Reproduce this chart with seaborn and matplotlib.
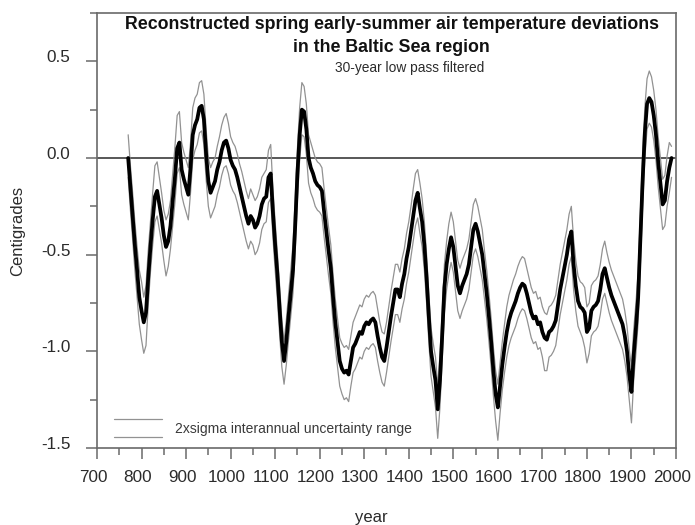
import numpy as np
import pandas as pd
import matplotlib
matplotlib.use("Agg")
import matplotlib.pyplot as plt
from matplotlib.lines import Line2D
from matplotlib.legend_handler import HandlerBase
from matplotlib.ticker import MultipleLocator, FormatStrFormatter
from matplotlib.transforms import ScaledTranslation
import seaborn as sns

# Reconstruction years (5-year steps)
years = list(range(770, 1995, 5))

# 30-year low-pass filtered temperature deviation (deg C)
center = [
    0.00, -0.15, -0.30, -0.45, -0.58, -0.72, -0.79, -0.85, -0.80, -0.62,
    -0.46, -0.32, -0.20, -0.17, -0.24, -0.31, -0.40, -0.46, -0.43, -0.35,
    -0.22, -0.10, 0.05, 0.08, -0.06, -0.11, -0.15, -0.19, -0.05, 0.12,
    0.17, 0.20, 0.26, 0.27, 0.20, 0.02, -0.12, -0.18, -0.15, -0.12,
    -0.06, -0.02, 0.04, 0.08, 0.09, 0.05, -0.01, -0.04, -0.06, -0.10,
    -0.15, -0.20, -0.25, -0.30, -0.34, -0.30, -0.32, -0.36, -0.34, -0.30,
    -0.24, -0.21, -0.20, -0.10, -0.08, -0.28, -0.45, -0.60, -0.78, -0.95,
    -1.05, -0.95, -0.82, -0.70, -0.58, -0.35, -0.08, 0.12, 0.25, 0.24,
    0.15, 0.00, -0.05, -0.08, -0.12, -0.14, -0.15, -0.17, -0.28, -0.38,
    -0.48, -0.57, -0.72, -0.85, -0.95, -1.05, -1.09, -1.11, -1.10, -1.12,
    -1.05, -0.98, -0.96, -0.93, -0.90, -0.91, -0.87, -0.85, -0.86, -0.84,
    -0.83, -0.85, -0.92, -0.98, -1.03, -1.05, -0.98, -0.90, -0.82, -0.75,
    -0.68, -0.68, -0.72, -0.65, -0.60, -0.52, -0.46, -0.38, -0.30, -0.22,
    -0.18, -0.26, -0.33, -0.45, -0.62, -0.82, -1.00, -1.08, -1.15, -1.30,
    -1.15, -0.92, -0.67, -0.55, -0.47, -0.41, -0.46, -0.56, -0.66, -0.70,
    -0.66, -0.63, -0.60, -0.55, -0.46, -0.37, -0.34, -0.38, -0.44, -0.50,
    -0.60, -0.70, -0.82, -0.95, -1.10, -1.22, -1.29, -1.18, -1.07, -0.98,
    -0.90, -0.84, -0.80, -0.77, -0.74, -0.70, -0.67, -0.65, -0.66, -0.70,
    -0.75, -0.80, -0.83, -0.82, -0.86, -0.85, -0.90, -0.93, -0.94, -0.90,
    -0.89, -0.87, -0.84, -0.76, -0.68, -0.62, -0.56, -0.50, -0.42, -0.38,
    -0.55, -0.66, -0.74, -0.77, -0.78, -0.80, -0.90, -0.88, -0.79, -0.77,
    -0.76, -0.74, -0.68, -0.60, -0.57, -0.62, -0.67, -0.71, -0.74, -0.77,
    -0.80, -0.83, -0.86, -0.92, -1.00, -1.12, -1.21, -1.02, -0.88, -0.72,
    -0.42, -0.12, 0.13, 0.28, 0.31, 0.29, 0.22, 0.12, -0.02, -0.13,
    -0.24, -0.22, -0.12, -0.05, 0.00,
]

# Upper edge of the 2-sigma interannual uncertainty range
upper = [
    0.12, -0.04, -0.18, -0.33, -0.46, -0.58, -0.64, -0.72, -0.66, -0.48,
    -0.33, -0.18, -0.04, -0.02, -0.10, -0.18, -0.27, -0.32, -0.29, -0.22,
    -0.08, 0.06, 0.22, 0.24, 0.08, 0.03, -0.01, -0.05, 0.08, 0.26,
    0.31, 0.33, 0.39, 0.40, 0.33, 0.15, 0.00, -0.05, -0.02, 0.00,
    0.06, 0.11, 0.17, 0.21, 0.23, 0.18, 0.11, 0.08, 0.06, 0.02,
    -0.03, -0.07, -0.12, -0.17, -0.21, -0.16, -0.19, -0.22, -0.20, -0.16,
    -0.10, -0.08, -0.06, 0.04, 0.07, -0.16, -0.33, -0.49, -0.66, -0.84,
    -0.95, -0.84, -0.71, -0.58, -0.45, -0.21, 0.05, 0.26, 0.39, 0.37,
    0.28, 0.12, 0.08, 0.04, 0.00, -0.02, -0.03, -0.05, -0.16, -0.26,
    -0.36, -0.45, -0.60, -0.73, -0.83, -0.93, -0.96, -0.98, -0.97, -0.99,
    -0.92, -0.85, -0.82, -0.79, -0.76, -0.77, -0.73, -0.71, -0.72, -0.70,
    -0.69, -0.71, -0.78, -0.85, -0.90, -0.91, -0.85, -0.77, -0.69, -0.62,
    -0.55, -0.55, -0.59, -0.52, -0.47, -0.39, -0.33, -0.25, -0.16, -0.08,
    -0.06, -0.13, -0.21, -0.33, -0.50, -0.70, -0.88, -0.96, -1.03, -1.18,
    -1.02, -0.80, -0.55, -0.43, -0.34, -0.28, -0.33, -0.43, -0.53, -0.57,
    -0.53, -0.50, -0.47, -0.42, -0.33, -0.24, -0.21, -0.25, -0.31, -0.37,
    -0.48, -0.58, -0.70, -0.83, -0.98, -1.10, -1.17, -1.06, -0.95, -0.86,
    -0.77, -0.71, -0.67, -0.63, -0.60, -0.56, -0.53, -0.51, -0.52, -0.57,
    -0.62, -0.67, -0.70, -0.69, -0.73, -0.72, -0.77, -0.80, -0.81, -0.77,
    -0.76, -0.74, -0.71, -0.63, -0.55, -0.49, -0.43, -0.37, -0.29, -0.25,
    -0.42, -0.53, -0.61, -0.64, -0.65, -0.67, -0.77, -0.75, -0.66, -0.64,
    -0.63, -0.61, -0.55, -0.47, -0.43, -0.49, -0.54, -0.58, -0.61, -0.64,
    -0.67, -0.70, -0.73, -0.79, -0.87, -0.99, -1.08, -0.89, -0.75, -0.59,
    -0.29, 0.01, 0.26, 0.41, 0.45, 0.42, 0.35, 0.25, 0.11, 0.00,
    -0.11, -0.09, 0.01, 0.08, 0.06,
]

# Lower edge of the 2-sigma interannual uncertainty range
lower = [
    -0.10, -0.27, -0.42, -0.58, -0.72, -0.86, -0.94, -1.01, -0.97, -0.76,
    -0.59, -0.45, -0.33, -0.30, -0.37, -0.44, -0.53, -0.61, -0.56, -0.47,
    -0.35, -0.23, -0.08, -0.05, -0.19, -0.24, -0.28, -0.32, -0.18, -0.01,
    0.04, 0.07, 0.13, 0.14, 0.07, -0.11, -0.25, -0.31, -0.28, -0.25,
    -0.19, -0.15, -0.09, -0.05, -0.04, -0.08, -0.14, -0.17, -0.19, -0.23,
    -0.28, -0.33, -0.38, -0.43, -0.47, -0.43, -0.45, -0.50, -0.48, -0.44,
    -0.37, -0.34, -0.33, -0.23, -0.21, -0.41, -0.58, -0.73, -0.91, -1.08,
    -1.17, -1.07, -0.94, -0.82, -0.70, -0.48, -0.21, -0.01, 0.12, 0.11,
    0.02, -0.13, -0.18, -0.21, -0.25, -0.27, -0.28, -0.30, -0.41, -0.51,
    -0.61, -0.70, -0.85, -0.98, -1.08, -1.18, -1.22, -1.25, -1.24, -1.26,
    -1.18, -1.11, -1.09, -1.06, -1.03, -1.04, -1.00, -0.98, -0.99, -0.97,
    -0.96, -0.98, -1.05, -1.11, -1.16, -1.18, -1.11, -1.03, -0.95, -0.88,
    -0.81, -0.81, -0.85, -0.78, -0.73, -0.65, -0.59, -0.51, -0.43, -0.35,
    -0.31, -0.39, -0.46, -0.58, -0.75, -0.95, -1.13, -1.21, -1.29, -1.45,
    -1.29, -1.05, -0.80, -0.68, -0.60, -0.54, -0.59, -0.69, -0.79, -0.83,
    -0.79, -0.76, -0.73, -0.68, -0.59, -0.50, -0.47, -0.51, -0.57, -0.63,
    -0.73, -0.83, -0.95, -1.08, -1.23, -1.36, -1.46, -1.32, -1.20, -1.11,
    -1.03, -0.97, -0.93, -0.90, -0.87, -0.83, -0.80, -0.78, -0.79, -0.83,
    -0.88, -0.93, -0.96, -0.95, -0.99, -0.98, -1.03, -1.10, -1.10, -1.03,
    -1.02, -1.00, -0.97, -0.89, -0.81, -0.75, -0.69, -0.63, -0.55, -0.51,
    -0.68, -0.79, -0.87, -0.90, -0.93, -0.98, -1.06, -1.01, -0.92, -0.90,
    -0.89, -0.87, -0.81, -0.73, -0.70, -0.75, -0.80, -0.84, -0.87, -0.90,
    -0.93, -0.96, -0.99, -1.05, -1.13, -1.25, -1.37, -1.15, -1.01, -0.85,
    -0.55, -0.25, 0.00, 0.15, 0.18, 0.16, 0.09, -0.01, -0.15, -0.26,
    -0.37, -0.35, -0.25, -0.18, -0.10,
]

xticks = list(range(700, 2001, 100))
yticks = [-1.5, -1.0, -0.5, 0.0, 0.5]

df = pd.DataFrame({"year": years, "center": center, "upper": upper, "lower": lower})

sns.set_style("ticks")
plt.rcParams["font.family"] = ["Liberation Sans", "DejaVu Sans"]

TEXT = "#2b2b2b"
AXIS = "#6a6a6a"
BAND = "#929292"

fig = plt.figure(figsize=(6.95, 5.25), dpi=100)
ax = fig.add_axes([97 / 695, 1 - 448 / 525, (676 - 97) / 695, (448 - 13) / 525])

ax.axhline(0.0, color="#4a4a4a", lw=1.3, zorder=1)

sns.lineplot(data=df, x="year", y="upper", ax=ax, color=BAND, lw=0.9, zorder=2)
sns.lineplot(data=df, x="year", y="lower", ax=ax, color=BAND, lw=0.9, zorder=2)
sns.lineplot(data=df, x="year", y="center", ax=ax, color="black", lw=2.7, zorder=3)

ax.set_xlim(700, 2000)
ax.set_ylim(-1.5, 0.75)
ax.set_xticks(xticks)
ax.set_yticks(yticks)
ax.xaxis.set_minor_locator(MultipleLocator(50))
ax.yaxis.set_minor_locator(MultipleLocator(0.25))
ax.yaxis.set_major_formatter(FormatStrFormatter("%.1f"))

for side in ["left", "right", "top", "bottom"]:
    ax.spines[side].set_visible(True)
    ax.spines[side].set_color(AXIS)
    ax.spines[side].set_linewidth(1.2)

ax.tick_params(axis="both", which="major", direction="out", length=8, width=1.1,
               color=AXIS, labelsize=12.3, labelcolor=TEXT)
ax.tick_params(axis="y", which="major", pad=11)
ax.tick_params(axis="x", which="major", pad=8)
ax.tick_params(axis="both", which="minor", direction="out", length=5, width=1.1,
               color=AXIS)
ax.tick_params(axis="y", which="both", right=False)
ax.tick_params(axis="x", which="both", top=False)

# Tick labels sit slightly up (y) and slightly left (x) of their ticks
y_shift = ScaledTranslation(0, 5 / 100, fig.dpi_scale_trans)
x_shift = ScaledTranslation(-4 / 100, 0, fig.dpi_scale_trans)
for tick in ax.yaxis.get_major_ticks():
    tick.label1.set_transform(tick.label1.get_transform() + y_shift)
for tick in ax.xaxis.get_major_ticks():
    tick.label1.set_transform(tick.label1.get_transform() + x_shift)

ax.set_xlabel("year", fontsize=12, color=TEXT)
ax.set_ylabel("Centigrades", fontsize=12, color=TEXT)
ax.xaxis.set_label_coords(0.473, -0.142)
ax.yaxis.set_label_coords(-0.124, 0.5)

ax.text(0.509, 0.963, "Reconstructed spring early-summer air temperature deviations",
        transform=ax.transAxes, ha="center", va="baseline", fontsize=12.8,
        fontweight="bold", color="#111111")
ax.text(0.509, 0.911, "in the Baltic Sea region",
        transform=ax.transAxes, ha="center", va="baseline", fontsize=12.8,
        fontweight="bold", color="#111111")
ax.text(0.540, 0.865, "30-year low pass filtered",
        transform=ax.transAxes, ha="center", va="baseline", fontsize=9.9,
        color=TEXT)


class BracketHandler(HandlerBase):
    """Legend key made of two parallel lines, one for each edge of the range."""

    def create_artists(self, legend, orig_handle, xdescent, ydescent,
                       width, height, fontsize, trans):
        x0, x1 = -xdescent, -xdescent + width
        ymid = -ydescent + height / 2
        gap = 0.93 * height
        arts = []
        for y in (ymid + gap, ymid - gap):
            ln = Line2D([x0, x1], [y, y], color=BAND, lw=0.9, transform=trans)
            arts.append(ln)
        return arts


band_handle = ax.lines[1]
leg = ax.legend([band_handle], ["2xsigma interannual uncertainty range"],
                handler_map={band_handle: BracketHandler()},
                loc="lower left", bbox_to_anchor=(0.0294, 0.028),
                frameon=False, fontsize=10, handlelength=3.45,
                handletextpad=0.93, borderpad=0, borderaxespad=0)
for t in leg.get_texts():
    t.set_color("#3a3a3a")

fig.savefig("out.png", dpi=100)
